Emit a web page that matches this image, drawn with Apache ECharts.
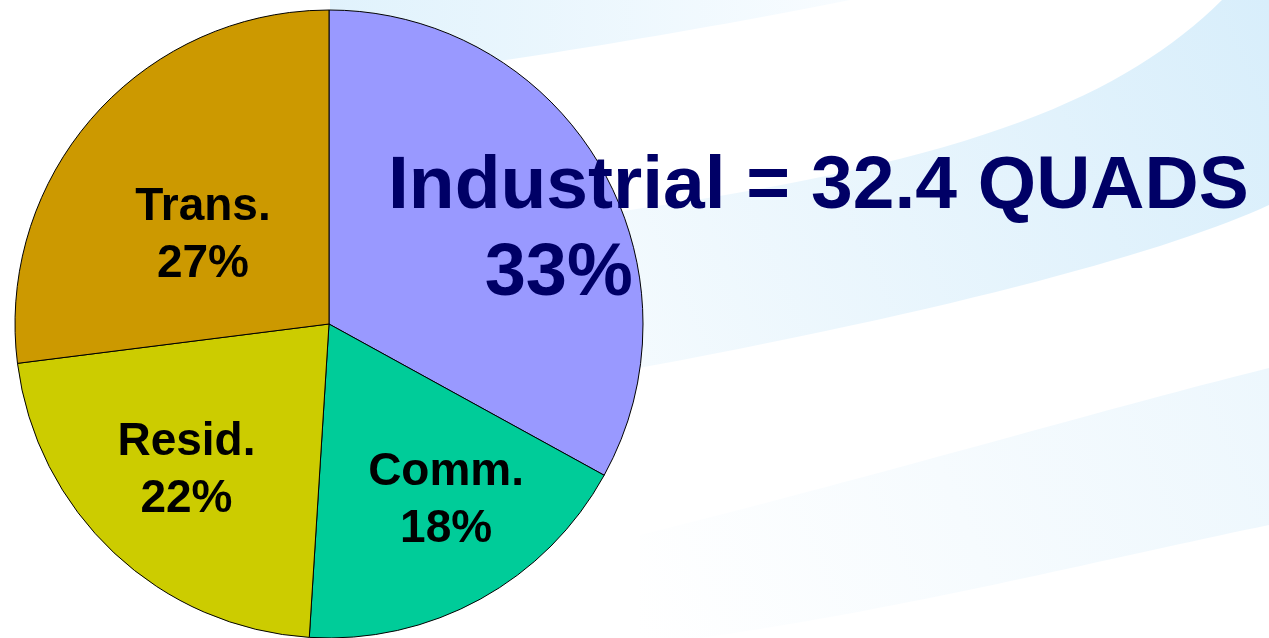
<!DOCTYPE html>
<html>
<head>
<meta charset="utf-8">
<script src="https://cdn.jsdelivr.net/npm/echarts@6/dist/echarts.min.js"></script>
<style>
html,body{margin:0;padding:0;background:#fff;}
#chart{width:1269px;height:638px;}
</style>
</head>
<body>
<div id="chart"></div>
<script>
// ---- data ----
const sectors = ['Industrial', 'Comm.', 'Resid.', 'Trans.'];
const shares = [33, 18, 22, 27];            // percent of total
const sectorColors = ['#9999FF', '#00CC99', '#CCCC00', '#CC9900'];
const industrialQuads = 32.4;

// label nudges (pixels) from the default "inside" position, per slice
const labelNudge = [[92, 32], [40, 37], [-33, 30], [-6, 18]];

const chart = echarts.init(document.getElementById('chart'), null, {renderer: 'canvas'});

// decorative background swoosh: sample cubic curves into polygon points
function cubic(p0, p1, p2, p3, n) {
  const pts = [];
  for (let i = 0; i <= n; i++) {
    const t = i / n, u = 1 - t;
    pts.push([
      u*u*u*p0[0] + 3*u*u*t*p1[0] + 3*u*t*t*p2[0] + t*t*t*p3[0],
      u*u*u*p0[1] + 3*u*u*t*p1[1] + 3*u*t*t*p2[1] + t*t*t*p3[1]
    ]);
  }
  return pts;
}
function band(points, c1, c2, x1, y1, x2, y2) {
  return {
    type: 'polygon', silent: true, z: -10,
    shape: {points: points},
    style: {
      fill: {
        type: 'linear', x: x1, y: y1, x2: x2, y2: y2,
        colorStops: [{offset: 0, color: c1}, {offset: 1, color: c2}]
      }
    }
  };
}

const bandA = [[330, 0], [850, 0]].concat(cubic([850, 0], [700, 30], [520, 60], [330, 85], 30));
const bandB = cubic([1222, 0], [1100, 120], [900, 190], [330, 245], 40)
  .concat(cubic([330, 420], [850, 340], [1150, 260], [1269, 205], 40))
  .concat([[1269, 0]]);
const bandC = cubic([640, 535], [900, 470], [1100, 410], [1269, 368], 40)
  .concat(cubic([1269, 525], [1100, 560], [900, 610], [700, 638], 40))
  .concat([[640, 638]]);

const option = {
  backgroundColor: '#ffffff',
  animation: false,
  graphic: [
    band(bandA, '#e0f2fc', '#f8fcff', 0, 0, 1, 0),
    band(bandB, '#ffffff', '#d8eefb', 0, 1, 1, 0),
    band(bandC, '#ffffff', '#edf7fd', 0, 1, 1, 0),
    {
      type: 'text', z: 10, silent: true,
      style: {
        x: 388, y: 187,
        text: 'Industrial = ' + industrialQuads + ' QUADS',
        font: 'bold 75px "Liberation Sans", Arial, sans-serif',
        fill: '#000066',
        textAlign: 'left',
        textVerticalAlign: 'middle'
      }
    }
  ],
  series: [{
    type: 'pie',
    center: [329, 324],
    radius: 314,
    startAngle: 90,
    clockwise: true,
    avoidLabelOverlap: false,
    emphasis: {disabled: true},
    itemStyle: {borderColor: '#000000', borderWidth: 1},
    label: {
      show: true,
      position: 'inside',
      formatter: p => p.name + '\n' + p.value + '%',
      fontFamily: '"Liberation Sans", Arial, sans-serif',
      fontWeight: 'bold',
      fontSize: 46,
      lineHeight: 57,
      color: '#000000'
    },
    labelLine: {show: false},
    labelLayout: p => ({dx: labelNudge[p.dataIndex][0], dy: labelNudge[p.dataIndex][1]}),
    data: sectors.map((s, i) => {
      const d = {name: s, value: shares[i], itemStyle: {color: sectorColors[i]}};
      if (i === 0) {
        d.label = {
          formatter: p => p.value + '%',
          fontSize: 74,
          lineHeight: 74,
          color: '#000066'
        };
      }
      return d;
    })
  }]
};
chart.setOption(option);
</script>
</body>
</html>
